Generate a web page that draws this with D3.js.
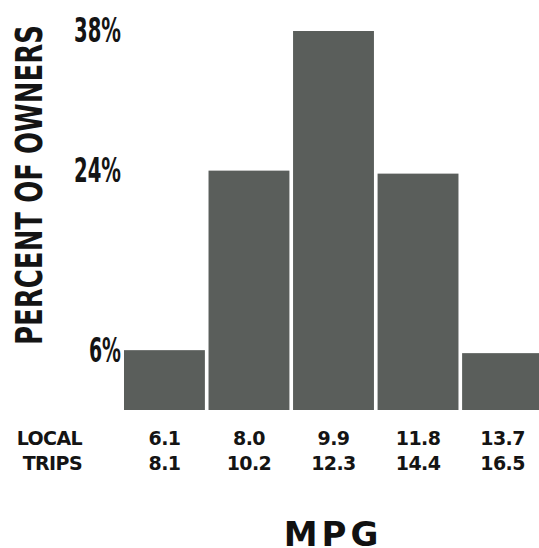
<!DOCTYPE html>
<meta charset="utf-8">
<html>
  <head>
    <style>
      body { margin: 0; background: #fff; }
      text.tick-lbl {
          font-family: "DejaVu Sans Condensed", "DejaVu Sans", sans-serif;
          font-weight: bold;
          font-size: 34px;
          fill: #141414;
      }
      text.ytitle {
          font-family: "DejaVu Sans Condensed", "DejaVu Sans", sans-serif;
          font-weight: bold;
          font-size: 38px;
          fill: #141414;
      }
      text.mpg-lbl {
          font-family: "DejaVu Sans", sans-serif;
          font-weight: bold;
          font-size: 19px;
          fill: #141414;
      }
      text.xtitle {
          font-family: "DejaVu Sans", sans-serif;
          font-weight: bold;
          font-size: 34px;
          fill: #111;
      }
    </style>
    <script src="https://d3js.org/d3.v7.min.js"></script>
  </head>
  <body>
    <script>

      // data
      var bins = ["b1", "b2", "b3", "b4", "b5"];
      var percent = [6, 24, 38, 23.7, 5.7];
      var localLow = ["6.1", "8.0", "9.9", "11.8", "13.7"];
      var localHigh = ["8.1", "10.2", "12.3", "14.4", "16.5"];
      var yTicks = [6, 24, 38];

      var width = 539,
          height = 548;

      var svg = d3.select('body').append('svg')
          .attr('width', width)
          .attr('height', height);

      var x = d3.scaleBand()
          .domain(bins)
          .range([124, 543])
          .paddingInner(0.043)
          .paddingOuter(0);

      var y = d3.scaleLinear()
          .domain([0, 38])
          .range([410, 31]);

      // bars
      svg.selectAll(".bar")
          .data(percent)
          .enter().append("rect")
          .attr("class", "bar")
          .attr("x", function(d, i) { return x(bins[i]); })
          .attr("y", function(d) { return y(d); })
          .attr("width", x.bandwidth())
          .attr("height", function(d) { return y(0) - y(d); })
          .attr("fill", "#5a5e5b");

      // y axis: labels only, squeezed like the condensed print type
      var yAxis = svg.append("g")
          .attr("transform", "translate(121,0)")
          .call(d3.axisLeft(y)
                .tickValues(yTicks)
                .tickSize(0)
                .tickPadding(0)
                .tickFormat(function(d) { return d + "%"; }));
      yAxis.select(".domain").remove();
      yAxis.selectAll("text")
          .attr("class", "tick-lbl")
          .attr("font-family", null)
          .attr("font-size", null)
          .attr("fill", null)
          .attr("textLength", function(d) { return d < 10 ? 32 : 47; })
          .attr("lengthAdjust", "spacingAndGlyphs");

      svg.append("text")
          .attr("class", "ytitle")
          .attr("transform", "translate(42,185)rotate(-90)")
          .attr("text-anchor", "middle")
          .attr("textLength", 320)
          .attr("lengthAdjust", "spacingAndGlyphs")
          .text("PERCENT OF OWNERS");

      // bottom labels
      svg.append("text")
          .attr("class", "mpg-lbl")
          .attr("x", 82).attr("y", 445)
          .attr("text-anchor", "end")
          .attr("letter-spacing", "-0.6px")
          .text("LOCAL");
      svg.append("text")
          .attr("class", "mpg-lbl")
          .attr("x", 82).attr("y", 470)
          .attr("text-anchor", "end")
          .attr("letter-spacing", "-0.6px")
          .text("TRIPS");

      svg.selectAll(".low")
          .data(localLow)
          .enter().append("text")
          .attr("class", "mpg-lbl low")
          .attr("x", function(d, i) { return x(bins[i]) + x.bandwidth() / 2; })
          .attr("y", 445)
          .attr("text-anchor", "middle")
          .attr("letter-spacing", "-0.6px")
          .text(function(d) { return d; });

      svg.selectAll(".high")
          .data(localHigh)
          .enter().append("text")
          .attr("class", "mpg-lbl high")
          .attr("x", function(d, i) { return x(bins[i]) + x.bandwidth() / 2; })
          .attr("y", 470)
          .attr("text-anchor", "middle")
          .attr("letter-spacing", "-0.6px")
          .text(function(d) { return d; });

      svg.append("text")
          .attr("class", "xtitle")
          .attr("x", 333)
          .attr("y", 546)
          .attr("text-anchor", "middle")
          .attr("letter-spacing", "4px")
          .text("MPG");

    </script>
  </body>
</html>
